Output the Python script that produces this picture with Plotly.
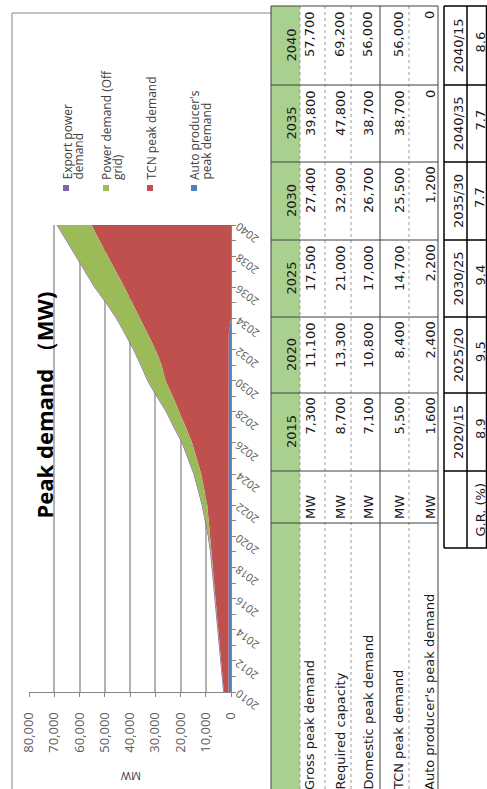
import plotly.graph_objects as go

W, H = 487, 789

# ---- chart data (MW) ----
years = list(range(2010, 2041))
auto_producer_mw = [1000, 1000, 1000, 1000, 1000, 1000, 1000, 1000, 1000, 1000,
                    1000, 1000, 1000, 900, 900, 900, 900, 900, 900, 900,
                    900, 900, 900, 900, 0, 0, 0, 0, 0, 0, 0]
tcn_peak_mw = [1800, 2400, 3000, 3600, 4100, 4600, 5100, 5700, 6200, 6700,
               7300, 7800, 8400, 9700, 10900, 12700, 14500, 17000, 19500, 22200,
               25000, 26600, 29000, 32000, 36100, 39200, 42200, 45500, 48900, 52100,
               55200]
off_grid_mw = [0, 0, 0, 0, 0, 0, 0, 0, 100, 300,
               600, 1200, 1900, 2300, 2800, 3300, 3800, 4600, 5100, 6200,
               7000, 8100, 8600, 8900, 9100, 10200, 11700, 12100, 12400, 12900,
               13600]
export_mw = [300, 300, 300, 300, 300, 300, 300, 300, 300, 300,
             300, 300, 300, 300, 300, 300, 300, 300, 300, 300,
             300, 300, 300, 300, 300, 300, 300, 300, 300, 300,
             300]

value_ticks = [0, 10000, 20000, 30000, 40000, 50000, 60000, 70000, 80000]
year_labels = list(range(2010, 2041, 2))

# ---- table data ----
table_years = ["2015", "2020", "2025", "2030", "2035", "2040"]
row_names = ["Gross peak demand", "Required capacity", "Domestic peak demand",
             "TCN peak demand", "Auto producer's peak demand"]
gross_peak = [7300, 11100, 17500, 27400, 39800, 57700]
required_capacity = [8700, 13300, 21000, 32900, 47800, 69200]
domestic_peak = [7100, 10800, 17000, 26700, 38700, 56000]
tcn_peak = [5500, 8400, 14700, 25500, 38700, 56000]
auto_peak = [1600, 2400, 2200, 1200, 0, 0]
gr_periods = ["2020/15", "2025/20", "2030/25", "2035/30", "2040/35", "2040/15"]
gr_values = [8.9, 9.5, 9.4, 7.7, 7.7, 8.6]

RED, GREEN, PURPLE, BLUE = "#c0504d", "#9bbb59", "#8064a2", "#4f81bd"
HEAD_GREEN = "#a9d08e"
AXIS_GRAY = "#868686"
GRID_GRAY = "#b3b3b3"


def px(x):
    return x / W


def py(y):
    return 1 - y / H


fig = go.Figure()

# stacked areas, stacked horizontally (values on x, years on y)
series = [
    ("Auto producer's peak demand", auto_producer_mw, BLUE),
    ("TCN peak demand", tcn_peak_mw, RED),
    ("Power demand (Off grid)", off_grid_mw, GREEN),
    ("Export power demand", export_mw, PURPLE),
]
for name, vals, col in series:
    fig.add_trace(go.Scatter(
        x=vals, y=years, name=name, mode="lines",
        stackgroup="peak", orientation="h", fill="tonextx",
        line=dict(width=0, color=col), fillcolor=col,
        hoverinfo="x+y+name",
    ))

fig.update_layout(
    template="none",
    width=W, height=H,
    margin=dict(l=0, r=0, t=0, b=0, autoexpand=False),
    paper_bgcolor="white", plot_bgcolor="white",
    showlegend=False,
    font=dict(family="Open Sans", color="#404040"),
)
fig.update_xaxes(
    domain=[px(29), px(231)], range=[80000, 0], automargin=False,
    tickmode="array", tickvals=value_ticks,
    ticktext=[f"{v:,}" for v in value_ticks],
    tickangle=-90, tickfont=dict(size=13, color="#595959"),
    showgrid=True, gridcolor=GRID_GRAY, gridwidth=1.5,
    showline=True, linecolor=AXIS_GRAY, linewidth=1,
    ticks="outside", ticklen=4, tickwidth=1,
    tickcolor=AXIS_GRAY, zeroline=False, ticklabelstandoff=10,
)
fig.update_yaxes(
    domain=[py(692), py(225)], range=[2010, 2040], automargin=False,
    side="right", showline=True, linecolor=AXIS_GRAY, linewidth=1,
    ticks="outside", ticklen=4, tickwidth=1, tickcolor=AXIS_GRAY,
    tickmode="linear", tick0=2010, dtick=1, showticklabels=False,
    showgrid=False, zeroline=False,
)

annotations = []
shapes = []

# year labels on the category axis
for yr in year_labels:
    annotations.append(dict(
        x=px(231), xref="paper", y=yr, yref="y", text=str(yr),
        textangle=-143, showarrow=False, xanchor="center", yanchor="middle",
        xshift=16, yshift=-9, font=dict(size=11, color="#595959"),
    ))

# chart title and axis title
annotations.append(dict(
    x=px(43.5), y=py(405), xref="paper", yref="paper",
    text="<b>Peak demand （MW)</b>", textangle=-90, showarrow=False,
    xanchor="center", yanchor="middle",
    font=dict(size=22, color="#000000", family="Open Sans"),
))
annotations.append(dict(
    x=px(131), y=py(777), xref="paper", yref="paper", text="MW",
    textangle=180, showarrow=False, xanchor="center", yanchor="middle",
    font=dict(size=11, color="#404040"),
))

# chart frame
shapes.append(dict(type="line", xref="paper", yref="paper",
                   x0=px(12), x1=px(271), y0=py(13), y1=py(13),
                   line=dict(color=AXIS_GRAY, width=1)))
shapes.append(dict(type="line", xref="paper", yref="paper",
                   x0=px(12), x1=px(12), y0=py(13), y1=py(800),
                   line=dict(color=AXIS_GRAY, width=1)))

# legend (drawn as rotated text with colour keys)
legend_items = [
    (["Export power", "demand"], PURPLE, [67, 78], 63),
    (["Power demand (Off", "grid)"], GREEN, [106, 117], 103),
    (["TCN peak demand"], RED, [151], 147),
    (["Auto producer's", "peak demand"], BLUE, [194, 206], 191),
]
for lines, col, xs, mx in legend_items:
    shapes.append(dict(type="rect", xref="paper", yref="paper",
                       x0=px(mx), x1=px(mx + 6), y0=py(185), y1=py(191),
                       fillcolor=col, line=dict(width=0)))
    for txt, lx in zip(lines, xs):
        annotations.append(dict(
            x=px(lx), y=py(182), xref="paper", yref="paper", text=txt,
            textangle=-90, showarrow=False, xanchor="center", yanchor="bottom",
            font=dict(size=12, color="#404040"),
        ))

# ---- data table ----
col_bounds = [6, 85, 162, 240, 317, 393, 471, 523]
row_lines = [271, 300, 325, 351, 380, 409, 438]
solid_rows = {271, 380, 438}
head_x = 291
row_x = [310, 340, 368, 399, 430]
TFONT = dict(family="DejaVu Sans", size=13, color="#1a1a1a")

shapes.append(dict(type="rect", xref="paper", yref="paper",
                   x0=px(271), x1=px(300), y0=py(6), y1=py(800),
                   fillcolor=HEAD_GREEN, line=dict(width=0)))
for xl in row_lines:
    solid = xl in solid_rows
    shapes.append(dict(type="line", xref="paper", yref="paper",
                       x0=px(xl), x1=px(xl), y0=py(6), y1=py(800),
                       line=dict(color="#404040" if solid else "#9a9a9a",
                                 width=1, dash="solid" if solid else "dot")))
for yl in col_bounds:
    shapes.append(dict(type="line", xref="paper", yref="paper",
                       x0=px(271), x1=px(438), y0=py(yl), y1=py(yl),
                       line=dict(color="#404040", width=1)))

row_values = [gross_peak, required_capacity, domestic_peak, tcn_peak, auto_peak]
for i, yr in enumerate(table_years):
    top, bottom = col_bounds[5 - i], col_bounds[6 - i]
    annotations.append(dict(
        x=px(head_x), y=py((top + bottom) / 2), xref="paper", yref="paper",
        text=yr, textangle=-90, showarrow=False,
        xanchor="center", yanchor="middle", font=TFONT,
    ))
    for rx, vals in zip(row_x, row_values):
        annotations.append(dict(
            x=px(rx), y=py(top + 3), xref="paper", yref="paper",
            text=f"{vals[i]:,}", textangle=-90, showarrow=False,
            xanchor="center", yanchor="top", font=TFONT,
        ))

for rx, name in zip(row_x, row_names):
    annotations.append(dict(
        x=px(rx), y=py(521), xref="paper", yref="paper", text="MW",
        textangle=-90, showarrow=False, xanchor="center", yanchor="bottom",
        font=TFONT,
    ))
    annotations.append(dict(
        x=px(rx), y=py(792), xref="paper", yref="paper", text=name,
        textangle=-90, showarrow=False, xanchor="center", yanchor="bottom",
        font=TFONT,
    ))

# growth-rate table
gr_bounds = [6, 85, 162, 240, 317, 393, 471, 548]
for xl in [444, 467, 486.5]:
    shapes.append(dict(type="line", xref="paper", yref="paper",
                       x0=px(xl), x1=px(xl), y0=py(6), y1=py(548),
                       line=dict(color="#000000", width=1.5)))
for yl in gr_bounds:
    shapes.append(dict(type="line", xref="paper", yref="paper",
                       x0=px(444), x1=px(487), y0=py(yl), y1=py(yl),
                       line=dict(color="#000000", width=1.5)))
for i, (per, val) in enumerate(zip(gr_periods, gr_values)):
    top, bottom = gr_bounds[5 - i], gr_bounds[6 - i]
    mid = (top + bottom) / 2
    annotations.append(dict(
        x=px(458), y=py(mid), xref="paper", yref="paper", text=per,
        textangle=-90, showarrow=False, xanchor="center", yanchor="middle",
        font=TFONT,
    ))
    annotations.append(dict(
        x=px(480), y=py(mid - 3), xref="paper", yref="paper", text=f"{val:.1f}",
        textangle=-90, showarrow=False, xanchor="center", yanchor="middle",
        font=TFONT,
    ))
annotations.append(dict(
    x=px(480), y=py(509.5), xref="paper", yref="paper", text="G.R. (%)",
    textangle=-90, showarrow=False, xanchor="center", yanchor="middle",
    font=TFONT,
))

fig.update_layout(annotations=annotations, shapes=shapes)
fig.write_html("out.html")
